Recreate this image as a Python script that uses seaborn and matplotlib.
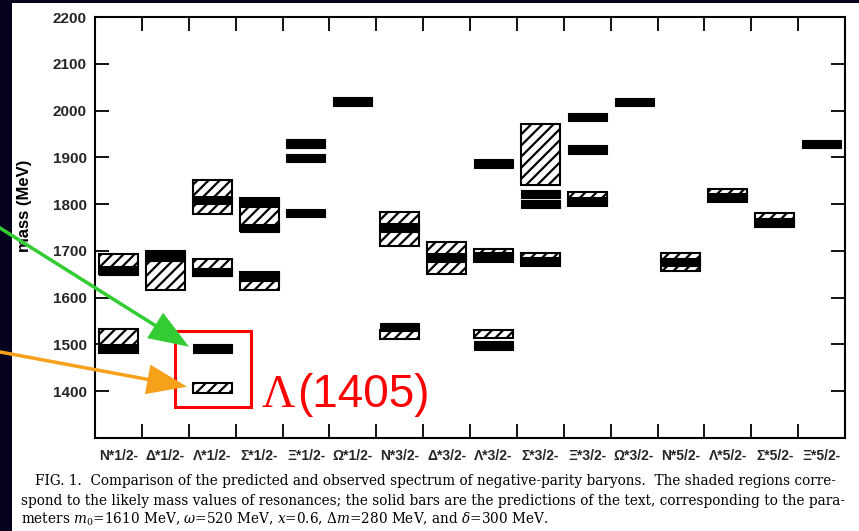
import numpy as np
import matplotlib
matplotlib.use("Agg")
import matplotlib.pyplot as plt
import seaborn as sns
from matplotlib.patches import Rectangle

# Baryon multiplets along the horizontal axis
categories = ["N*1/2", "Δ*1/2", "Λ*1/2", "Σ*1/2", "Ξ*1/2", "Ω*1/2",
              "N*3/2", "Δ*3/2", "Λ*3/2", "Σ*3/2", "Ξ*3/2", "Ω*3/2",
              "N*5/2", "Λ*5/2", "Σ*5/2", "Ξ*5/2"]

# Observed resonance mass ranges (shaded boxes), MeV
obs_cat  = [0, 0, 1, 2, 2, 2, 3, 3, 6, 6, 7, 8, 8, 9, 9, 10, 12, 13, 14]
obs_low  = [1650, 1481, 1616, 1778, 1646, 1397, 1742, 1617, 1710, 1511,
            1651, 1677, 1513, 1841, 1668, 1796, 1657, 1805, 1752]
obs_high = [1693, 1532, 1700, 1851, 1682, 1417, 1812, 1655, 1783, 1530,
            1720, 1705, 1531, 1972, 1696, 1826, 1695, 1832, 1782]

# Predicted masses (solid bars), MeV
pred_cat  = [0, 0, 1, 2, 2, 2, 3, 3, 3, 4, 4, 4, 5, 6, 6, 7,
             8, 8, 8, 9, 9, 9, 10, 10, 10, 11, 12, 13, 14, 15]
pred_mass = [1658, 1493, 1688, 1809, 1655, 1491, 1803, 1749, 1645,
             1930, 1899, 1781, 2019, 1750, 1537, 1686,
             1887, 1688, 1498, 1822, 1800, 1679, 1986, 1917, 1807,
             2018, 1676, 1815, 1762, 1929]

y_ticks = [1400, 1500, 1600, 1700, 1800, 1900, 2000, 2100, 2200]

sns.set_theme(style="ticks")
plt.rcParams["font.family"] = ["Liberation Sans", "DejaVu Sans"]
plt.rcParams["hatch.linewidth"] = 1.6
plt.rcParams["mathtext.fontset"] = "dejavuserif"

W, H = 859, 531
fig = plt.figure(figsize=(W / 100, H / 100), dpi=100, facecolor="#05031d")
fig.patches.append(Rectangle((12 / W, 0), 1 - 12 / W, 1 - 3 / H,
                             transform=fig.transFigure, facecolor="white",
                             edgecolor="none", zorder=-1))

ax = fig.add_axes([95 / W, (H - 438) / H, 750 / W, (438 - 17) / H])
ax.set_facecolor("white")

bar_w = 0.83
thick = 18.0
ax.bar(obs_cat, np.array(obs_high) - np.array(obs_low), bottom=obs_low,
       width=bar_w, color="white", edgecolor="black", hatch="///",
       linewidth=1.5, zorder=2)
ax.bar(pred_cat, thick, bottom=np.array(pred_mass) - thick / 2,
       width=bar_w, color="black", edgecolor="black", linewidth=0.8, zorder=3)

ax.set_xlim(-0.5, len(categories) - 0.5)
ax.set_ylim(1300, 2200)
ax.set_xticks(range(len(categories)))
ax.set_xticklabels([c + "-" for c in categories], fontsize=10, fontweight="bold")
ax.set_xticks(np.arange(0.5, len(categories) - 1, 1.0), minor=True)
ax.tick_params(axis="x", which="major", length=0, pad=8)
ax.tick_params(axis="x", which="minor", direction="in", length=10, width=1.3,
               top=True, bottom=True, color="black")
ax.set_yticks(y_ticks)
ax.set_yticklabels([str(v) for v in y_ticks], fontsize=11, fontweight="bold")
ax.tick_params(axis="y", direction="in", length=10, width=1.3, left=True,
               right=True, pad=6, color="black")
for sp in ax.spines.values():
    sp.set_visible(True)
    sp.set_color("black")
    sp.set_linewidth(1.5)
ax.set_xlabel("")
ax.set_ylabel("")

fig.text(25 / W, 1 - 206 / H, "mass (MeV)", rotation=90, ha="center",
         va="center", fontsize=12, fontweight="bold", color="black")

# Overlay in pixel units for the annotation and caption
ov = fig.add_axes([0, 0, 1, 1], zorder=5)
ov.set_xlim(0, W)
ov.set_ylim(H, 0)
ov.axis("off")
ov.patch.set_alpha(0)

ov.add_patch(Rectangle((175, 331), 76, 76, fill=False, edgecolor="#ff0000",
                       linewidth=2.2))
ov.text(262, 407, "Λ", color="#ff0000", fontsize=33, family="Liberation Serif",
        va="baseline", ha="left")
ov.text(297, 407, "(1405)", color="#ff0000", fontsize=33,
        family="Liberation Sans", va="baseline", ha="left")

ov.arrow(-10, 221.7, 199, 125.0, width=3.5, head_width=30, head_length=40,
         length_includes_head=True, color="#33cc33", linewidth=0)
ov.arrow(-10, 350.1, 197, 36.6, width=3.5, head_width=30, head_length=40,
         length_includes_head=True, color="#f7a11a", linewidth=0)

cap1 = ("FIG. 1.  Comparison of the predicted and observed spectrum of "
        "negative-parity baryons.  The shaded regions corre-")
cap2 = ("spond to the likely mass values of resonances; the solid bars are the "
        "predictions of the text, corresponding to the para-")
cap3 = (r"meters $m_0$=1610 MeV, $\omega$=520 MeV, $x$=0.6, "
        r"$\Delta m$=280 MeV, and $\delta$=300 MeV.")
cap_kw = dict(family="DejaVu Serif", color="black", va="baseline", ha="left")
t1 = ov.text(35, 485, cap1, fontsize=10, **cap_kw)
t2 = ov.text(21, 504.5, cap2, fontsize=10, **cap_kw)
t3 = ov.text(21, 524, cap3, fontsize=10, **cap_kw)

renderer = fig.canvas.get_renderer()
w2 = t2.get_window_extent(renderer).width
fs = 10 * 827 / w2
for t in (t1, t2, t3):
    t.set_fontsize(fs)

fig.savefig("out.png", dpi=100, facecolor=fig.get_facecolor())
